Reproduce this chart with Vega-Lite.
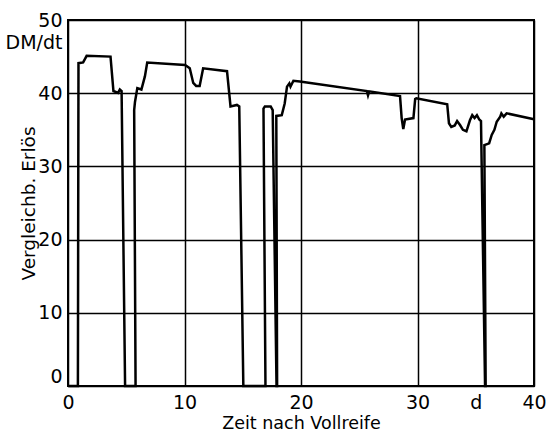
{
  "$schema": "https://vega.github.io/schema/vega-lite/v6.json",
  "width": 466,
  "height": 366,
  "autosize": {"type": "none"},
  "padding": {"left": 68, "top": 20, "right": 13, "bottom": 47},
  "background": "white",
  "config": {
    "view": {"stroke": "black", "strokeWidth": 2},
    "font": "DejaVu Sans"
  },
  "data": {
    "values": [
      {"i": 0, "t": 0, "v": 0},
      {"i": 1, "t": 0.85, "v": 0},
      {"i": 2, "t": 0.9, "v": 44.1},
      {"i": 3, "t": 1.3, "v": 44.2},
      {"i": 4, "t": 1.6, "v": 45.1},
      {"i": 5, "t": 3.65, "v": 45.0},
      {"i": 6, "t": 3.9, "v": 40.3},
      {"i": 7, "t": 4.3, "v": 40.05},
      {"i": 8, "t": 4.45, "v": 40.5},
      {"i": 9, "t": 4.6, "v": 40.3},
      {"i": 10, "t": 4.9, "v": 0},
      {"i": 11, "t": 5.8, "v": 0},
      {"i": 12, "t": 5.68, "v": 37.7},
      {"i": 13, "t": 5.75, "v": 38.8},
      {"i": 14, "t": 5.95, "v": 40.7},
      {"i": 15, "t": 6.3, "v": 40.5},
      {"i": 16, "t": 6.6, "v": 42.3},
      {"i": 17, "t": 6.8, "v": 44.2},
      {"i": 18, "t": 10.05, "v": 43.85},
      {"i": 19, "t": 10.45, "v": 43.4},
      {"i": 20, "t": 10.75, "v": 41.4},
      {"i": 21, "t": 11.0, "v": 41.0},
      {"i": 22, "t": 11.3, "v": 41.0},
      {"i": 23, "t": 11.6, "v": 43.4},
      {"i": 24, "t": 13.65, "v": 43.0},
      {"i": 25, "t": 13.95, "v": 38.2},
      {"i": 26, "t": 14.5, "v": 38.4},
      {"i": 27, "t": 14.7, "v": 38.2},
      {"i": 28, "t": 15.05, "v": 0},
      {"i": 29, "t": 16.95, "v": 0},
      {"i": 30, "t": 16.78, "v": 37.9},
      {"i": 31, "t": 16.9, "v": 38.2},
      {"i": 32, "t": 17.4, "v": 38.2},
      {"i": 33, "t": 17.57, "v": 37.7},
      {"i": 34, "t": 17.9, "v": 0},
      {"i": 35, "t": 17.95, "v": 0},
      {"i": 36, "t": 17.88, "v": 36.9},
      {"i": 37, "t": 18.35, "v": 37.0},
      {"i": 38, "t": 18.6, "v": 38.6},
      {"i": 39, "t": 18.8, "v": 40.9},
      {"i": 40, "t": 19.0, "v": 41.35},
      {"i": 41, "t": 19.1, "v": 40.9},
      {"i": 42, "t": 19.35, "v": 41.7},
      {"i": 43, "t": 19.9, "v": 41.6},
      {"i": 44, "t": 25.65, "v": 40.3},
      {"i": 45, "t": 25.75, "v": 39.7},
      {"i": 46, "t": 25.85, "v": 40.25},
      {"i": 47, "t": 28.5, "v": 39.6},
      {"i": 48, "t": 28.64, "v": 36.6},
      {"i": 49, "t": 28.78, "v": 35.1},
      {"i": 50, "t": 28.93, "v": 36.4},
      {"i": 51, "t": 29.65, "v": 36.6},
      {"i": 52, "t": 29.8, "v": 39.2},
      {"i": 53, "t": 29.9, "v": 39.3},
      {"i": 54, "t": 32.55, "v": 38.5},
      {"i": 55, "t": 32.7, "v": 35.9},
      {"i": 56, "t": 32.9, "v": 35.4},
      {"i": 57, "t": 33.2, "v": 35.6},
      {"i": 58, "t": 33.4, "v": 36.2},
      {"i": 59, "t": 33.65, "v": 35.65},
      {"i": 60, "t": 33.9, "v": 35.0},
      {"i": 61, "t": 34.2, "v": 34.8},
      {"i": 62, "t": 34.5, "v": 36.3},
      {"i": 63, "t": 34.7, "v": 37.0},
      {"i": 64, "t": 34.9, "v": 36.6},
      {"i": 65, "t": 35.1, "v": 37.0},
      {"i": 66, "t": 35.3, "v": 36.4},
      {"i": 67, "t": 35.45, "v": 36.2},
      {"i": 68, "t": 35.8, "v": 0},
      {"i": 69, "t": 35.85, "v": 0},
      {"i": 70, "t": 35.74, "v": 32.9},
      {"i": 71, "t": 36.15, "v": 33.15},
      {"i": 72, "t": 36.37, "v": 34.3},
      {"i": 73, "t": 36.6, "v": 35.0},
      {"i": 74, "t": 36.8, "v": 36.1},
      {"i": 75, "t": 37.1, "v": 36.8},
      {"i": 76, "t": 37.2, "v": 37.25},
      {"i": 77, "t": 37.4, "v": 36.8},
      {"i": 78, "t": 37.65, "v": 37.25},
      {"i": 79, "t": 40, "v": 36.45}
    ]
  },
  "mark": {"type": "line", "color": "black", "strokeWidth": 2.5, "strokeJoin": "miter", "clip": false},
  "encoding": {
    "order": {"field": "i", "type": "quantitative"},
    "x": {
      "field": "t",
      "type": "quantitative",
      "scale": {"domain": [0, 40], "nice": false, "zero": false},
      "axis": {
        "title": "Zeit nach Vollreife",
        "values": [0, 10, 20, 30, 35, 40],
        "labelExpr": "datum.value == 35 ? 'd' : datum.label",
        "labelOverlap": false,
        "labelBound": false,
        "labelFlush": false,
        "ticks": false,
        "domain": false,
        "grid": true,
        "gridColor": "black",
        "gridWidth": 1.5,
        "gridOpacity": {"condition": {"test": "datum.value == 35", "value": 0}, "value": 1},
        "labelFontSize": 19,
        "labelColor": "black",
        "labelPadding": 7,
        "titleFontSize": 17.5,
        "titleFontWeight": "normal",
        "titleColor": "black",
        "titleY": 42,
        "titleBaseline": "alphabetic"
      }
    },
    "y": {
      "field": "v",
      "type": "quantitative",
      "scale": {"domain": [0, 50], "nice": false},
      "axis": {
        "title": "Vergleichb. Erlös",
        "values": [0, 10, 20, 30, 40, 46.9, 50],
        "labelExpr": "datum.value == 46.9 ? 'DM/dt' : datum.label",
        "labelOverlap": false,
        "labelBound": false,
        "labelFlush": false,
        "labelBaseline": {"condition": {"test": "datum.value == 0", "value": "bottom"}, "value": "middle"},
        "ticks": false,
        "domain": false,
        "grid": true,
        "gridColor": "black",
        "gridWidth": 1.5,
        "gridOpacity": {"condition": {"test": "datum.value == 46.9", "value": 0}, "value": 1},
        "labelFontSize": 19,
        "labelColor": "black",
        "labelPadding": 6,
        "titleFontSize": 18.5,
        "titleFontWeight": "normal",
        "titleColor": "black",
        "titleX": -40,
        "titleBaseline": "middle"
      }
    }
  }
}
